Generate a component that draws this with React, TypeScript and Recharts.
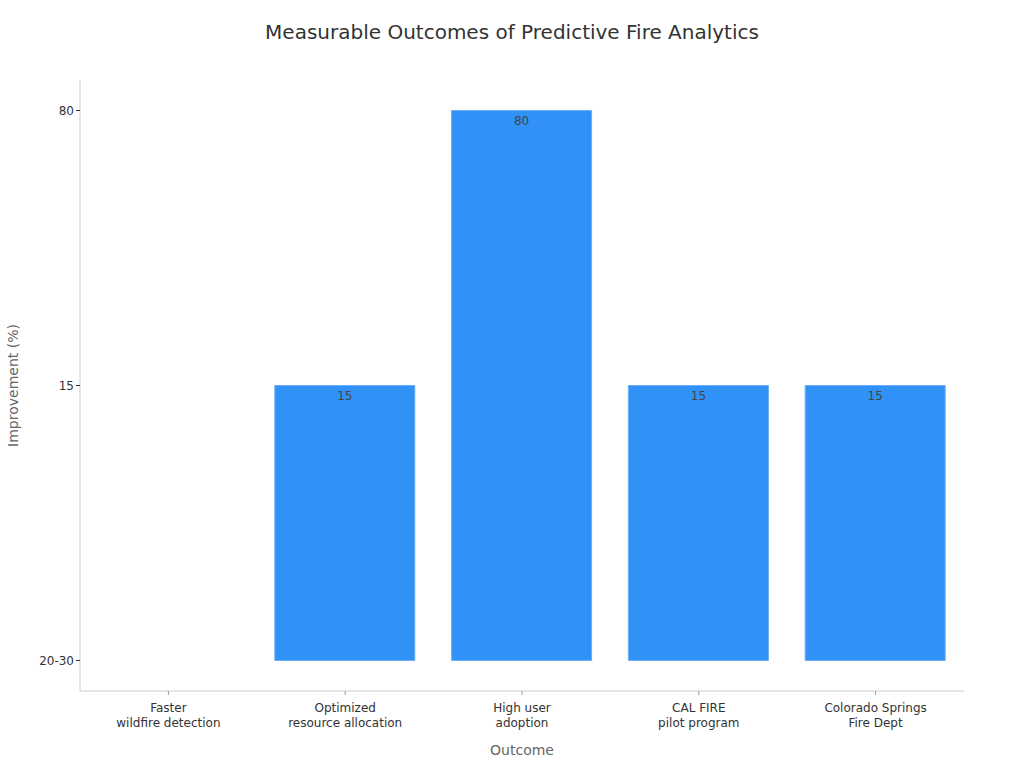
import { BarChart, Bar, XAxis, YAxis, LabelList } from 'recharts';

const outcomes = [
  'Faster\nwildfire detection',
  'Optimized\nresource allocation',
  'High user\nadoption',
  'CAL FIRE\npilot program',
  'Colorado Springs\nFire Dept',
];
const improvement = ['20-30', '15', '80', '15', '15'];
// Y axis is categorical in the source: levels from bottom to top
const yLevels = ['20-30', '15', '80'];

const data = outcomes.map((name, i) => ({
  name,
  label: improvement[i],
  rank: yLevels.indexOf(improvement[i]),
}));

const FONT = '"DejaVu Sans", Verdana, sans-serif';

const MultiLineTick = (props: any) => {
  const { x, y, payload } = props;
  const lines = String(payload.value).split('\n');
  return (
    <g transform={`translate(${x},${y})`}>
      {lines.map((line, i) => (
        <text key={i} x={0} y={15 + i * 15} textAnchor="middle" fontSize={12} fill="#333" fontFamily={FONT}>
          {line}
        </text>
      ))}
    </g>
  );
};

const BarLabel = (props: any) => {
  const { x, y, width, height, value } = props;
  if (!height || height < 1) return null;
  return (
    <text x={x + width / 2} y={y + 14} textAnchor="middle" fontSize={12} fill="#444" fontFamily={FONT}>
      {value}
    </text>
  );
};

export default function App() {
  return (
    <div style={{ position: 'absolute', top: 0, left: 0, width: 1024, height: 768, background: '#fff', fontFamily: FONT }}>
      <div style={{ position: 'absolute', top: 20, width: 1024, textAlign: 'center', fontSize: 20, color: '#333' }}>
        Measurable Outcomes of Predictive Fire Analytics
      </div>
      <BarChart width={1024} height={768} data={data} margin={{ top: 80, right: 60, bottom: 0, left: 1 }}>
        <XAxis
          dataKey="name"
          height={77}
          interval={0}
          tick={<MultiLineTick />}
          tickSize={4}
          stroke="#ccc"
          tickLine={{ stroke: '#999' }}
          label={{ value: 'Outcome', position: 'insideBottom', offset: 13, fill: '#666', fontSize: 14, fontFamily: FONT }}
        />
        <YAxis
          type="number"
          width={79}
          domain={[-0.111, 2.111]}
          allowDataOverflow
          ticks={[0, 1, 2]}
          tickFormatter={(v: number) => yLevels[v]}
          tick={{ fill: '#333', fontSize: 12, fontFamily: FONT }}
          tickSize={4}
          stroke="#ccc"
          tickLine={{ stroke: '#333' }}
          label={{ value: 'Improvement (%)', angle: -90, position: 'insideLeft', offset: 12, fill: '#666', fontSize: 14, fontFamily: FONT, style: { textAnchor: 'middle' } }}
        />
        <Bar dataKey="rank" fill="#3092F7" stroke="#6aaef5" strokeWidth={1} barSize={140} isAnimationActive={false}>
          <LabelList dataKey="label" content={<BarLabel />} />
        </Bar>
      </BarChart>
    </div>
  );
}
